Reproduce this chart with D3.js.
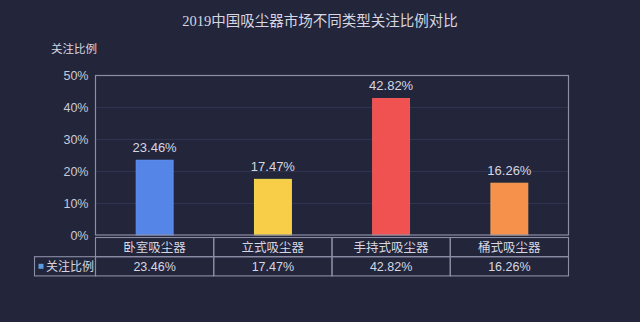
<!DOCTYPE html>
<html>
<head>
<meta charset="utf-8">
<script src="https://cdn.jsdelivr.net/npm/d3@7/dist/d3.min.js"></script>
<style>
  html, body { margin: 0; padding: 0; background: #23253b; }
  svg { display: block; }
</style>
</head>
<body>
<svg id="chart" width="640" height="322"></svg>
<script>
// Chart data
const categories = ["卧室吸尘器", "立式吸尘器", "手持式吸尘器", "桶式吸尘器"];
const values = [23.46, 17.47, 42.82, 16.26];
const barColors = ["#5585e6", "#f8cd47", "#f05252", "#f6914b"];
const yTicks = [0, 10, 20, 30, 40, 50];
const seriesName = "关注比例";
const titleText = "2019中国吸尘器市场不同类型关注比例对比";

const W = 640, H = 322;
const plot = { left: 95.5, right: 568.5, top: 75.5, bottom: 235 };
const tableTop = 237.5, rowH = 19.2, legendLeft = 34.5;

const sansFont = "'Liberation Sans', 'Noto Sans CJK SC', sans-serif";
const titleFont = "'Liberation Serif', 'Noto Sans CJK SC', serif";
const textColor = "#d6d7e0";
const lineColor = "#8c8ea6";

const svg = d3.select("#chart");
svg.append("rect").attr("width", W).attr("height", H).attr("fill", "#23253b");

const x = d3.scaleBand().domain(categories).range([plot.left, plot.right]).paddingInner(0).paddingOuter(0);
const y = d3.scaleLinear().domain([0, 50]).range([plot.bottom, plot.top]);

// Title
svg.append("text")
  .attr("x", 320).attr("y", 26)
  .attr("text-anchor", "middle")
  .attr("font-family", titleFont)
  .attr("font-size", 14.5)
  .attr("fill", textColor)
  .text(titleText);

// Axis title
svg.append("text")
  .attr("x", 51).attr("y", 53)
  .attr("font-family", sansFont)
  .attr("font-size", 11.5)
  .attr("fill", textColor)
  .text(seriesName);

// Gridlines
svg.append("g")
  .selectAll("line")
  .data(yTicks.filter(t => t > 0 && t < 50))
  .join("line")
  .attr("x1", plot.left).attr("x2", plot.right)
  .attr("y1", d => Math.round(y(d)) + 0.5).attr("y2", d => Math.round(y(d)) + 0.5)
  .attr("stroke", "#2f3250").attr("stroke-width", 1);

// Y axis tick labels
const yAxis = d3.axisLeft(y).tickValues(yTicks).tickSize(0).tickPadding(7).tickFormat(d => d + "%");
const yg = svg.append("g").attr("transform", `translate(${plot.left},0)`).call(yAxis);
yg.select(".domain").remove();
yg.selectAll("text")
  .attr("font-family", sansFont)
  .attr("font-size", 12.5)
  .attr("fill", "#c9cad6");

// Bars
const barW = 37;
svg.append("g")
  .selectAll("rect")
  .data(values)
  .join("rect")
  .attr("x", (d, i) => x(categories[i]) + x.bandwidth() / 2 - barW / 2)
  .attr("width", barW)
  .attr("y", d => y(d))
  .attr("height", d => y(0) - y(d))
  .attr("fill", (d, i) => barColors[i])
  .attr("stroke", (d, i) => d3.color(barColors[i]).brighter(0.4))
  .attr("stroke-width", 0.8);

// Value labels
svg.append("g")
  .selectAll("text")
  .data(values)
  .join("text")
  .attr("x", (d, i) => x(categories[i]) + x.bandwidth() / 2)
  .attr("y", d => y(d) - 8)
  .attr("text-anchor", "middle")
  .attr("font-family", sansFont)
  .attr("font-size", 13)
  .attr("fill", textColor)
  .text(d => d.toFixed(2) + "%");

// Plot frame
svg.append("rect")
  .attr("x", plot.left).attr("y", plot.top)
  .attr("width", plot.right - plot.left).attr("height", plot.bottom - plot.top)
  .attr("fill", "none").attr("stroke", lineColor).attr("stroke-width", 1.2);

// Data table
const table = svg.append("g");
const tableBottom = tableTop + rowH * 2;
// header row + value row cells
categories.forEach((c, i) => {
  const x0 = x(c);
  table.append("rect")
    .attr("x", x0).attr("y", tableTop)
    .attr("width", x.bandwidth()).attr("height", rowH)
    .attr("fill", "none").attr("stroke", lineColor).attr("stroke-width", 1.1);
  table.append("rect")
    .attr("x", x0).attr("y", tableTop + rowH)
    .attr("width", x.bandwidth()).attr("height", rowH)
    .attr("fill", "none").attr("stroke", lineColor).attr("stroke-width", 1.1);
  table.append("text")
    .attr("x", x0 + x.bandwidth() / 2).attr("y", tableTop + rowH / 2 + 4.5)
    .attr("text-anchor", "middle")
    .attr("font-family", sansFont).attr("font-size", 12.5)
    .attr("fill", textColor)
    .text(c);
  table.append("text")
    .attr("x", x0 + x.bandwidth() / 2).attr("y", tableTop + rowH * 1.5 + 4.5)
    .attr("text-anchor", "middle")
    .attr("font-family", sansFont).attr("font-size", 12.5)
    .attr("fill", textColor)
    .text(values[i].toFixed(2) + "%");
});
// legend cell
table.append("rect")
  .attr("x", legendLeft).attr("y", tableTop + rowH)
  .attr("width", plot.left - legendLeft).attr("height", rowH)
  .attr("fill", "none").attr("stroke", lineColor).attr("stroke-width", 1.1);
table.append("rect")
  .attr("x", 38.5).attr("y", tableTop + rowH * 1.5 - 2.5)
  .attr("width", 5).attr("height", 5)
  .attr("fill", "#5b9be0");
table.append("text")
  .attr("x", 46).attr("y", tableTop + rowH * 1.5 + 4.5)
  .attr("font-family", sansFont).attr("font-size", 12)
  .attr("fill", textColor)
  .text(seriesName);
</script>
</body>
</html>
